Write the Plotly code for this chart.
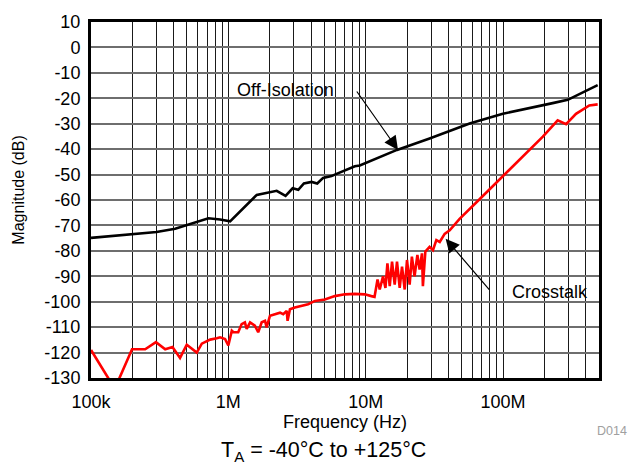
import math
import plotly.graph_objects as go

# ---------------- data ----------------
off_freq = [1.0e5, 3.0e5, 4.1e5, 7.16e5, 8.71e5, 1.03e6, 1.61e6, 2.01e6, 2.25e6, 2.61e6,
            2.94e6, 3.23e6, 3.55e6, 4.04e6, 4.44e6, 4.9e6, 5.64e6, 5.96e6, 6.49e6, 7.25e6,
            8.34e6, 9.06e6, 1.69e7, 2.92e7, 5.71e7, 9.98e7, 1.84e8, 2.30e8, 2.96e8, 3.6e8,
            4.2e8, 4.89e8]
off_db = [-74.9, -72.6, -71.3, -67.2, -67.7, -68.4, -58.0, -56.8, -56.4, -58.4,
          -55.4, -56.0, -53.5, -52.9, -53.5, -51.3, -50.6, -50.0, -49.1, -48.0,
          -46.7, -46.4, -40.3, -35.8, -29.9, -26.1, -22.8, -21.9, -20.6, -18.3,
          -16.5, -14.8]

xt_freq = [1.0e5, 1.49e5, 1.99e5, 2.48e5, 2.97e5, 3.47e5, 3.92e5, 4.45e5, 4.98e5, 5.89e5,
           6.41e5, 7.37e5, 8.24e5, 8.71e5, 9.47e5, 1.0e6, 1.06e6, 1.09e6, 1.18e6, 1.25e6,
           1.32e6, 1.36e6, 1.44e6, 1.56e6, 1.65e6, 1.75e6, 1.85e6, 1.90e6, 2.01e6, 2.18e6,
           2.38e6, 2.51e6, 2.66e6, 2.70e6, 2.81e6, 3.05e6, 3.41e6, 3.81e6, 4.27e6, 5.04e6,
           5.96e6, 7.05e6, 8.33e6, 9.85e6, 1.10e7, 1.16e7, 1.22e7, 1.266e7, 1.338e7, 1.393e7,
           1.44e7, 1.497e7, 1.556e7, 1.627e7, 1.691e7, 1.769e7, 1.839e7, 1.924e7, 2.0e7, 2.09e7,
           2.17e7, 2.27e7, 2.38e7, 2.47e7, 2.57e7, 2.61e7, 2.72e7, 2.92e7, 3.09e7, 3.27e7,
           3.46e7, 3.76e7, 4.09e7, 4.83e7, 6.75e7, 9.98e7, 1.47e8, 1.95e8, 2.50e8, 2.88e8,
           3.40e8, 4.25e8, 4.89e8]
xt_db = [-119.0, -134.2, -118.7, -118.7, -115.9, -118.7, -117.8, -122.1, -116.9, -120.0,
         -116.5, -114.9, -114.4, -114.0, -114.7, -117.2, -111.4, -112.0, -112.0, -108.8,
         -108.1, -110.7, -108.1, -109.4, -112.0, -108.1, -107.5, -110.1, -105.5, -104.9,
         -104.3, -104.9, -103.6, -107.5, -103.0, -102.3, -101.7, -101.0, -99.7, -99.1,
         -97.8, -97.1, -96.9, -97.1, -97.8, -98.1, -91.3, -95.2, -90.0, -94.6,
         -84.9, -93.9, -84.2, -93.3, -84.2, -94.6, -86.2, -95.2, -83.6, -93.3,
         -82.3, -90.0, -81.6, -87.4, -81.0, -93.9, -80.3, -78.4, -79.7, -75.8,
         -76.5, -73.3, -71.9, -67.4, -59.7, -50.6, -41.6, -35.1, -28.7, -30.2,
         -26.1, -22.8, -22.4]

x_grid_vals = [m * 10 ** e for e in (5, 6, 7) for m in range(1, 10)] + [1e8, 2e8, 3e8, 4e8, 5e8]
x_labels = {1e5: "100k", 1e6: "1M", 1e7: "10M", 1e8: "100M"}
x_grid_text = [x_labels.get(v, "") for v in x_grid_vals]

y_vals = list(range(10, -131, -10))
y_text = [str(v) for v in y_vals]

FONT = "Liberation Sans, Arial, sans-serif"

fig = go.Figure()
fig.add_trace(go.Scatter(x=off_freq, y=off_db, mode="lines",
                         line=dict(color="black", width=2.6), name="Off-Isolation"))
fig.add_trace(go.Scatter(x=xt_freq, y=xt_db, mode="lines",
                         line=dict(color="#ff0000", width=2.6), name="Crosstalk"))

fig.update_layout(
    width=637, height=470,
    margin=dict(l=91, r=38, t=17, b=92),
    paper_bgcolor="white", plot_bgcolor="white",
    showlegend=False,
    font=dict(family=FONT, size=18, color="black"),
)

fig.update_xaxes(
    type="log", range=[5, math.log10(5e8)],
    tickvals=x_grid_vals, ticktext=x_grid_text, ticks="",
    showgrid=True, gridcolor="#1a1a1a", gridwidth=1,
    showline=True, linecolor="black", linewidth=3, mirror=True,
    tickfont=dict(size=18), ticklabelstandoff=5,
    title=dict(text="Frequency (Hz)", font=dict(size=18), standoff=4),
    zeroline=False,
)
fig.update_yaxes(
    range=[-130, 10], tickvals=y_vals, ticktext=y_text, ticks="",
    showgrid=True, gridcolor="#6e6e6e", gridwidth=1.6,
    showline=True, linecolor="black", linewidth=3, mirror=True,
    tickfont=dict(size=18), ticklabelstandoff=4,
    zeroline=False,
)

# white label boxes and leader lines
shapes = [
    dict(type="rect", xref="x", yref="y", x0=6.02, x1=6.826, y0=-24.9, y1=-7.84,
         fillcolor="white", line=dict(width=0), layer="above"),
    dict(type="rect", xref="x", yref="y", x0=8.033, x1=8.699, y0=-104.4, y1=-87.3,
         fillcolor="white", line=dict(width=0), layer="above"),
    dict(type="line", xref="x", yref="y", x0=6.826, x1=6.928, y0=-16.75, y1=-16.75,
         line=dict(color="black", width=1.2), layer="above"),
    dict(type="line", xref="x", yref="y", x0=7.909, x1=8.033, y0=-95.85, y1=-95.85,
         line=dict(color="black", width=1.2), layer="above"),
]
fig.update_layout(shapes=shapes)

annotations = [
    dict(x=6.4157, y=-16.75, xref="x", yref="y", text="Off-Isolation", showarrow=False,
         font=dict(size=18), xanchor="center", yanchor="middle"),
    dict(x=8.3416, y=-96.2, xref="x", yref="y", text="Crosstalk", showarrow=False,
         font=dict(size=18), xanchor="center", yanchor="middle"),
    dict(x=7.2355, y=-40.3, xref="x", yref="y", ax=6.928, ay=-16.75, axref="x", ayref="y",
         text="", showarrow=True, arrowhead=2, arrowsize=2.3, arrowwidth=1.2,
         arrowcolor="black", standoff=0),
    dict(x=7.582, y=-75.2, xref="x", yref="y", ax=7.909, ay=-95.85, axref="x", ayref="y",
         text="", showarrow=True, arrowhead=2, arrowsize=2.3, arrowwidth=1.2,
         arrowcolor="black", standoff=0),
    dict(x=(19 - 91) / 508, y=(378 - 188) / 361, xref="paper", yref="paper",
         text="Magnitude (dB)", textangle=-90, showarrow=False,
         font=dict(size=16), xanchor="center", yanchor="middle"),
    dict(x=(323.7 - 91) / 508, y=-(453 - 378) / 361, xref="paper", yref="paper",
         text="T<sub>A</sub> = -40°C to +125°C", showarrow=False,
         font=dict(size=21.5), xanchor="center", yanchor="middle"),
    dict(x=(612 - 91) / 508, y=-(432 - 378) / 361, xref="paper", yref="paper",
         text="D014", showarrow=False, font=dict(size=12.5, color="#a0a0a0"),
         xanchor="center", yanchor="middle"),
]
fig.update_layout(annotations=annotations)

fig.write_html("out.html")
